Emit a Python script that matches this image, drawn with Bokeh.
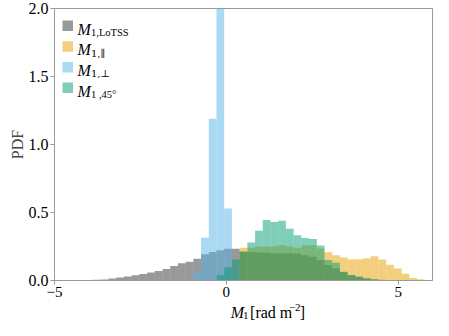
import numpy as np
from bokeh.plotting import figure
from bokeh.layouts import column
from bokeh.models import Range1d, FixedTicker, Label, BoxAnnotation
from bokeh.embed import file_html
from bokeh.resources import INLINE

# ---- histogram binning (shared by all series) ----
bin_lo, bin_hi, n_bins = -5.0, 6.0, 49

# ---- PDF values per series (first non-empty bin index + heights) ----
lotss_first_bin = 3
lotss_pdf = [0.002, 0.004, 0.005, 0.008, 0.014, 0.022, 0.029, 0.039, 0.048, 0.058,
             0.070, 0.085, 0.106, 0.126, 0.138, 0.160, 0.193, 0.210, 0.222, 0.234,
             0.234, 0.215, 0.210, 0.205, 0.205, 0.200, 0.200, 0.200, 0.198, 0.185,
             0.174, 0.150, 0.114, 0.090, 0.060, 0.040, 0.025, 0.015, 0.010, 0.005]

par_first_bin = 24
par_pdf = [0.240, 0.240, 0.250, 0.250, 0.250, 0.260, 0.250, 0.240, 0.260, 0.260,
           0.235, 0.208, 0.186, 0.169, 0.157, 0.157, 0.164, 0.178, 0.155, 0.116,
           0.089, 0.049, 0.019, 0.009]

perp_first_bin = 18
perp_pdf = [0.065, 0.314, 1.190, 2.450, 0.529]

diag_first_bin = 21
diag_pdf = [0.041, 0.097, 0.155, 0.210, 0.280, 0.365, 0.444, 0.430, 0.440, 0.380,
            0.333, 0.312, 0.305, 0.258, 0.150, 0.130, 0.065, 0.040, 0.030, 0.017,
            0.008]

series_sub = ["1,LoTSS", "1,\u2225", "1,\u22a5", "1 ,45\u00b0"]
series_sub_font = ["Liberation Serif", "DejaVu Serif", "DejaVu Serif", "Liberation Serif"]
series_colors = ["#000000", "#E69F00", "#56B4E9", "#009E73"]
series_alpha = [0.4, 0.5, 0.5, 0.5]

x_ticks = [-5, 0, 5]
x_tick_labels = ["\u22125", "0", "5"]
y_ticks = [0.0, 0.5, 1.0, 1.5, 2.0]
y_tick_labels = ["0.0", "0.5", "1.0", "1.5", "2.0"]

FONT = "Liberation Serif"
AXIS_GRAY = "#9a9a9a"

edges = np.linspace(bin_lo, bin_hi, n_bins + 1)

W = 433
FRAME_L, FRAME_R, FRAME_T, FRAME_B = 54, 432, 8, 280
MAIN_H = 302
LAB_H = 18

p = figure(width=W, height=MAIN_H, output_backend="svg", toolbar_location=None,
           x_range=Range1d(-5, 6), y_range=Range1d(0, 2),
           min_border_left=FRAME_L, min_border_right=W - FRAME_R,
           min_border_top=FRAME_T, min_border_bottom=MAIN_H - FRAME_B)
p.background_fill_color = "white"
p.border_fill_color = "white"
p.outline_line_color = AXIS_GRAY
p.outline_line_width = 1
p.xgrid.visible = False
p.ygrid.visible = False

series = [(lotss_first_bin, lotss_pdf), (par_first_bin, par_pdf),
          (perp_first_bin, perp_pdf), (diag_first_bin, diag_pdf)]
for (first, pdf), col, a in zip(series, series_colors, series_alpha):
    n = len(pdf)
    p.quad(left=edges[first:first + n], right=edges[first + 1:first + n + 1],
           bottom=0, top=pdf, fill_color=col, fill_alpha=a, line_color=None)

for ax in (p.xaxis[0], p.yaxis[0]):
    ax.axis_line_color = AXIS_GRAY
    ax.major_tick_line_color = AXIS_GRAY
    ax.minor_tick_line_color = None
    ax.major_tick_out = 4
    ax.major_tick_in = 0
    ax.major_label_text_font = FONT
    ax.major_label_text_font_size = "16px"
    ax.major_label_text_color = "black"

p.xaxis.ticker = FixedTicker(ticks=x_ticks)
p.xaxis.major_label_overrides = {t: s for t, s in zip(x_ticks, x_tick_labels)}
p.xaxis.major_label_standoff = 2
p.xaxis.major_label_text_font_size = "15px"
p.yaxis.ticker = FixedTicker(ticks=y_ticks)
p.yaxis.major_label_overrides = {t: s for t, s in zip(y_ticks, y_tick_labels)}
p.yaxis.major_label_standoff = 2
p.yaxis.axis_label = "PDF"
p.yaxis.axis_label_text_font = FONT
p.yaxis.axis_label_text_font_size = "16px"
p.yaxis.axis_label_text_font_style = "normal"
p.yaxis.axis_label_standoff = 0

# picture-pixel -> data helpers for the main frame
def dx(px):
    return -5 + (px - FRAME_L) * 11.0 / (FRAME_R - FRAME_L)

def dy(py):
    return (FRAME_B - py) * 2.0 / (FRAME_B - FRAME_T)

# ---- legend (custom, for math-like labels) ----
row_step = 20.7
for i, (sub, sfont, col, a) in enumerate(zip(series_sub, series_sub_font,
                                             series_colors, series_alpha)):
    top = 20 + row_step * i
    p.add_layout(BoxAnnotation(left=dx(62), right=dx(72.5), top=dy(top), bottom=dy(top + 10.5),
                               fill_color=col, fill_alpha=a, line_color=None))
    p.add_layout(Label(x=dx(77), y=dy(28.5 + row_step * i), text="M",
                       text_font=FONT, text_font_style="italic", text_font_size="16px",
                       text_baseline="alphabetic", text_align="left", text_color="black"))
    p.add_layout(Label(x=dx(90.5), y=dy(32 + row_step * i), text=sub,
                       text_font=sfont, text_font_size="10px" if sfont == "DejaVu Serif" else "10.5px",
                       text_baseline="alphabetic", text_align="left", text_color="black"))

# ---- x-axis label strip: M_1 [rad m^-2] ----
p2 = figure(width=W, height=LAB_H, output_backend="svg", toolbar_location=None,
            x_range=Range1d(0, W), y_range=Range1d(0, LAB_H),
            x_axis_type=None, y_axis_type=None,
            min_border_left=0, min_border_right=0, min_border_top=0, min_border_bottom=0)
p2.outline_line_color = None
p2.background_fill_color = "white"
p2.border_fill_color = "white"

def ly(py):
    return MAIN_H + LAB_H - py

x0 = 202
base = 312
pieces = [
    (x0, base, "M", "16px", "italic"),
    (x0 + 14, base + 3, "1", "11px", "normal"),
    (x0 + 22, base, "[rad m", "16px", "normal"),
    (x0 + 66.5, base - 5, "\u22122", "11px", "normal"),
    (x0 + 79, base, "]", "16px", "normal"),
]
for px, py, txt, size, style in pieces:
    p2.add_layout(Label(x=px, y=ly(py), text=txt, text_font=FONT, text_font_size=size,
                        text_font_style=style, text_baseline="alphabetic",
                        text_align="left", text_color="black"))

layout = column(p, p2, spacing=0)
open("out.html", "w").write(file_html(layout, INLINE))
